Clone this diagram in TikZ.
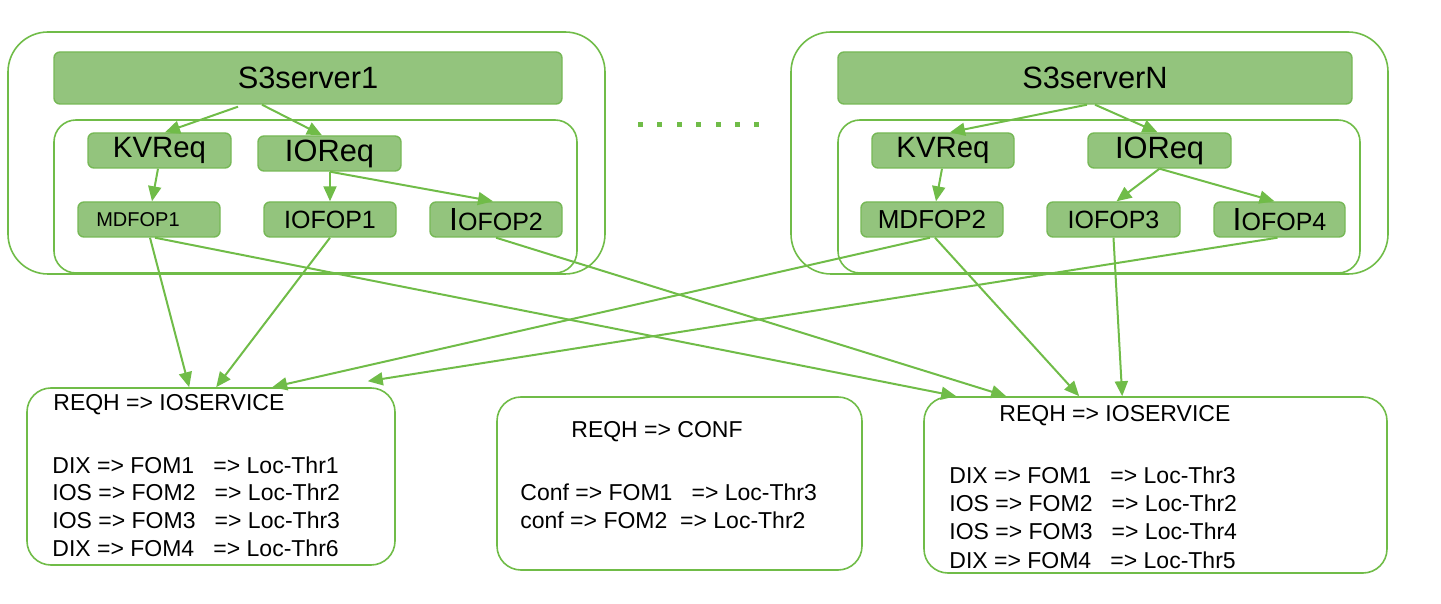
\documentclass[tikz,border=0pt]{standalone}
\usepackage{fontspec}
\setmainfont{Liberation Sans}
\usetikzlibrary{arrows.meta,calc}
\definecolor{gline}{RGB}{112,188,72}
\definecolor{gfill}{RGB}{147,196,125}
\definecolor{gborder}{RGB}{118,184,86}
\begin{document}
\begin{tikzpicture}[x=0.5pt,y=-0.5pt,
  frame/.style={draw=gline, line width=0.8pt, inner sep=0pt},
  gbox/.style={draw=gborder, fill=gfill, line width=0.7pt, rounded corners=3pt, inner sep=0pt, minimum height=17.5pt},
  conn/.style={draw=gline, line width=1pt, -{Triangle[length=7.5pt,width=6.5pt]}},
  txt/.style={inner sep=0pt, anchor=west, align=left},
]
\useasboundingbox (0,0) rectangle (1441,604);

% outer and inner frames
\node[frame, rounded corners=20pt, minimum width=298.5pt, minimum height=121pt] (outerL) at (306.5,153) {};
\node[frame, rounded corners=11pt, minimum width=261.5pt, minimum height=76.5pt] (innerL) at (315.5,196.5) {};
\node[frame, rounded corners=20pt, minimum width=298.5pt, minimum height=121pt] (outerR) at (1089.5,153) {};
\node[frame, rounded corners=11pt, minimum width=261pt, minimum height=76.5pt] (innerR) at (1099,196.5) {};

% server 1
\node[gbox, minimum width=254pt, minimum height=26pt, font=\fontsize{15.4}{17}\selectfont] (s3a) at (308,78) {S3server1};
\node[gbox, minimum width=71.5pt, font=\fontsize{14.7}{16}\selectfont] (kva) at (159.5,150.5) {KVReq};
\node[gbox, minimum width=71.5pt, font=\fontsize{15.4}{16}\selectfont] (ioa) at (329.5,153.5) {IOReq};
\node[gbox, minimum width=71pt, font=\fontsize{10}{12}\selectfont] (mdf1) at (149,219.5) {\hspace*{-11pt}MDFOP1};
\node[gbox, minimum width=66pt, font=\fontsize{12.5}{14}\selectfont] (iof1) at (330,219.5) {IOFOP1};
\node[gbox, minimum width=66pt, font=\fontsize{12.5}{14}\selectfont] (iof2) at (496,219.5) {{\fontsize{16}{16}\selectfont I}OFOP2};

% server N
\node[gbox, minimum width=257pt, minimum height=26pt, font=\fontsize{15.4}{17}\selectfont] (s3n) at (1095,78) {S3serverN};
\node[gbox, minimum width=71pt, font=\fontsize{14.7}{16}\selectfont] (kvn) at (943,150.5) {KVReq};
\node[gbox, minimum width=71.5pt, font=\fontsize{15.4}{16}\selectfont] (ion) at (1159.5,150.5) {IOReq};
\node[gbox, minimum width=71pt, font=\fontsize{13}{15}\selectfont] (mdf2) at (932,219.5) {MDFOP2};
\node[gbox, minimum width=66.5pt, font=\fontsize{12.5}{14}\selectfont] (iof3) at (1113.5,219.5) {IOFOP3};
\node[gbox, minimum width=65.5pt, font=\fontsize{12.5}{14}\selectfont] (iof4) at (1279.5,219.5) {{\fontsize{16}{16}\selectfont I}OFOP4};

% dots
\foreach \i in {0,...,6} \fill[gline] ({640.5+19.4*\i-2.5},122.5) rectangle ++(5,5);

% bottom boxes
\node[frame, rounded corners=12pt, minimum width=184pt, minimum height=88.5pt] (boxL) at (211,476.5) {};
\node[frame, rounded corners=12pt, minimum width=182.5pt, minimum height=86.5pt] (boxM) at (679.5,483.5) {};
\node[frame, rounded corners=12pt, minimum width=231.5pt, minimum height=88pt] (boxR) at (1155.5,485) {};

% texts
\node[txt, font=\fontsize{11.5}{13.8}\selectfont] (tL1) at (53,405) {REQH => IOSERVICE};
\node[txt, font=\fontsize{11.5}{13.8}\selectfont] (tL2) at (52,506.5) {DIX => FOM1\ \ \ => Loc-Thr1\\IOS => FOM2\ \ \ => Loc-Thr2\\IOS => FOM3\ \ \ => Loc-Thr3\\DIX => FOM4\ \ \ => Loc-Thr6};
\node[txt, font=\fontsize{11.5}{14}\selectfont] (tM1) at (571,432) {REQH => CONF};
\node[txt, font=\fontsize{11.5}{14}\selectfont] (tM2) at (520,506) {Conf => FOM1\ \ \ => Loc-Thr3\\conf => FOM2\ \ => Loc-Thr2};
\node[txt, font=\fontsize{11.5}{14.2}\selectfont] (tR1) at (999,416) {REQH => IOSERVICE};
\node[txt, font=\fontsize{11.5}{14.2}\selectfont] (tR2) at (949,517.5) {DIX => FOM1\ \ \ => Loc-Thr3\\IOS => FOM2\ \ \ => Loc-Thr2\\IOS => FOM3\ \ \ => Loc-Thr4\\DIX => FOM4\ \ \ => Loc-Thr5};

% connectors inside server 1
\draw[conn] ($(s3a.south)+(-70,2)$) -- ($(kva.north)+(5.5,0)$);
\draw[conn] ($(s3a.south)+(-46,0)$) -- ($(ioa.north)+(-7.5,0)$);
\draw[conn] ($(kva.south)+(-1.5,0)$) -- ($(mdf1.north)+(3,0)$);
\draw[conn] ($(ioa.south)+(0.5,0)$) -- (iof1.north);
\draw[conn] ($(ioa.south)+(0.5,0)$) -- ($(iof2.north)+(-3,0)$);

% connectors inside server N
\draw[conn] ($(s3n.south)+(-8,0)$) -- ($(kvn.north)+(7,0)$);
\draw[conn] ($(s3n.south)+(0,0)$) -- ($(ion.north)+(-2,0)$);
\draw[conn] ($(kvn.south)+(-1,0)$) -- ($(mdf2.north)+(4,0)$);
\draw[conn] (ion.south) -- ($(iof3.north)+(3,0)$);
\draw[conn] (ion.south) -- ($(iof4.north)+(-5,0)$);

% cross connectors
\coordinate (endL4) at ($(boxL.north east)+(-28,-6)$);
\draw[conn] ($(mdf1.south)+(1,0)$) -- ($(boxL.north west)+(163,0)$);
\draw[conn] (iof1.south) -- ($(boxL.north west)+(190,0)$);
\draw[conn] ($(mdf1.south)+(6,0)$) -- ($(boxR.north west)+(33,0)$);
\draw[conn] (iof2.south) -- ($(boxR.north west)+(83,0)$);
\draw[conn] ($(mdf2.south)+(-2,0)$) -- ($(boxL.north west)+(246,0)$);
\draw[conn] ($(mdf2.south)+(3,0)$) -- ($(boxR.north west)+(156,0)$);
\draw[conn] (iof3.south) -- ($(boxR.north west)+(199,0)$);
\draw[conn] ($(iof4.south)+(-2,0)$) -- (endL4);
\end{tikzpicture}
\end{document}
